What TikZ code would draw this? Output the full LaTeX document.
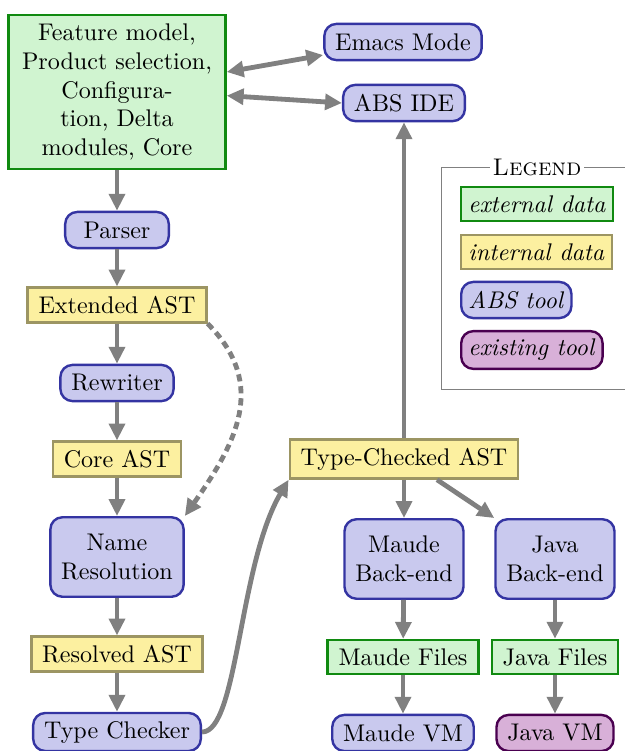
\documentclass[tikz,border=0pt]{standalone}
\usetikzlibrary{positioning}
\usetikzlibrary{arrows.meta}
\definecolor{extfill}{HTML}{D0F4D0}
\definecolor{extdraw}{HTML}{108A10}
\definecolor{intfill}{HTML}{FCF0A0}
\definecolor{intdraw}{HTML}{9C9563}
\definecolor{toolfill}{HTML}{C9C9EE}
\definecolor{tooldraw}{HTML}{3434A2}
\definecolor{oldfill}{HTML}{D8B0D8}
\definecolor{olddraw}{HTML}{4A0050}
\tikzset{
    extdata/.style = {rectangle, line width=1pt, draw=extdraw, fill=extfill, inner xsep=4.5pt, inner ysep=3.5pt, align=center},
    intdata/.style = {rectangle, line width=1pt, draw=intdraw, fill=intfill, inner xsep=4.5pt, inner ysep=3.5pt, align=center},
    abstool/.style = {rectangle, rounded corners=5pt, line width=1pt, draw=tooldraw, fill=toolfill, inner xsep=4.5pt, minimum height=15pt, minimum width=43pt, align=center},
    oldtool/.style = {rectangle, rounded corners=5pt, line width=1pt, draw=olddraw, fill=oldfill, inner xsep=4.5pt, minimum height=15pt, minimum width=43pt, align=center},
    twoline/.style = {minimum height=33pt},
    legitem/.style = {anchor=west, inner xsep=3pt, minimum width=0pt},
    edgen/.style = {-{Triangle[length=7pt,width=6.5pt]}, line width=2pt, gray},
    edged/.style = {edgen, dash pattern=on 3pt off 2pt}, % optional
    edgeb/.style = {{Triangle[length=7pt,width=6.5pt]}-{Triangle[length=7pt,width=6.5pt]}, line width=2pt, gray}
}
\begin{document}
\begin{tikzpicture}[x=0.01459cm, y=-0.01459cm]
  \useasboundingbox (0,0) rectangle (625,751);
  % front end
  \node[extdata, text width=2.85cm] (feat) at (117,92) {Feature model,\\ Product selection,\\ Configura-\\tion, Delta\\ modules, Core};
  \node[abstool] (parser) at (117,230) {Parser};
  \node[intdata] (ext) at (117,305) {Extended AST};
  \node[abstool] (rewriter) at (117,383) {Rewriter};
  \node[intdata] (core) at (117,459) {Core AST};
  \node[abstool, twoline] (nameres) at (117,557) {Name\\Resolution};
  \node[intdata] (resolved) at (117,654) {Resolved AST};
  \node[abstool] (typecheck) at (117,732) {Type Checker};
  % tools
  \node[abstool] (emacs) at (403,42) {Emacs Mode};
  \node[abstool] (abside) at (404,103) {ABS IDE};
  % back ends
  \node[intdata] (tca) at (404,459) {Type-Checked AST};
  \node[abstool, twoline] (maudebe) at (404,559) {Maude\\Back-end};
  \node[abstool, twoline] (javabe) at (555,559) {Java\\Back-end};
  \node[extdata] (maudef) at (403,657) {Maude Files};
  \node[extdata] (javaf) at (555,657) {Java Files};
  \node[abstool] (maudevm) at (403,733) {Maude VM};
  \node[oldtool] (javavm) at (555,733) {Java VM};

  \draw[edgen] (feat) -- (parser);
  \draw[edgen] (parser) -- (ext);
  \draw[edgen] (ext) -- (rewriter);
  \draw[edgen] (rewriter) -- (core);
  \draw[edgen] (core) -- (nameres);
  \draw[edgen] (nameres) -- (resolved);
  \draw[edgen] (resolved) -- (typecheck);
  \draw[edged] (ext.south east) to[out=-45, in=55, looseness=1.15] (nameres.north east);
  \draw[edgen] (typecheck.east) .. controls +(36,0) and +(-50,85) .. (tca.south west);
  \draw[edgen] (tca) -- (abside);
  \draw[edgen] (tca) -- (maudebe);
  \draw[edgen] ([xshift=13.7pt]tca.south) -- (javabe.north west);
  \draw[edgen] (maudebe) -- (maudef);
  \draw[edgen] (javabe) -- (javaf);
  \draw[edgen] (maudef) -- (maudevm);
  \draw[edgen] (javaf) -- (javavm);
  \draw[edgeb] ([yshift=8.3pt]feat.east) -- ([yshift=-5.4pt]emacs.west);
  \draw[edgeb] ([yshift=-1.5pt]feat.east) -- (abside.west);

  % legend
  \draw[gray, thin] (625,167) -- (441,167) -- (441,389) -- (625,389);
  \node[fill=white, inner sep=1pt] (legend) at (537,167) {\textsc{Legend}};
  \node[extdata, legitem] (lext) at (460,204) {\textit{external data}};
  \node[intdata, legitem] (lint) at (460,252) {\textit{internal data}};
  \node[abstool, legitem] (ltool) at (460,300) {\textit{ABS tool}};
  \node[oldtool, legitem] (lold) at (460,350) {\textit{existing tool}};
\end{tikzpicture}
\end{document}
